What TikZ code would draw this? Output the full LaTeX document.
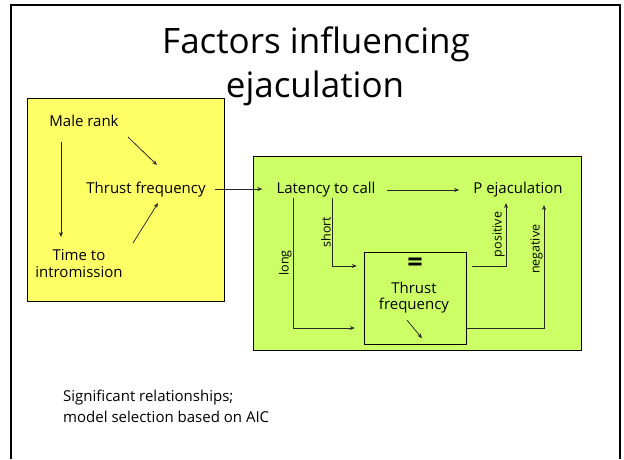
\documentclass[tikz,border=0pt]{standalone}
\usepackage{fontspec}
\setmainfont{Open Sans}
\usetikzlibrary{arrows.meta}
\definecolor{notepad}{HTML}{FFFF66}
\definecolor{lime}{HTML}{CCFF66}
\tikzset{
  lbl/.style={font=\fontsize{15}{17}\selectfont,inner sep=0pt,align=center},
  vlbl/.style={font=\fontsize{12.5}{14}\selectfont,inner sep=1pt,rotate=90,anchor=south},
  arr/.style={-{Stealth[length=5pt,width=4pt]},draw=black!85,line width=0.75pt},
}
\begin{document}
\begin{tikzpicture}[x=1pt,y=-1pt]
\useasboundingbox (0,0) rectangle (624,459);
\draw [line width=2pt] (11,459) -- (11,5) -- (620,5) -- (620,459);

% the two panels
\draw [fill=notepad] (27,98) rectangle (224,301);
\draw [fill=lime] (253,156) rectangle (581,350);
\node [draw,minimum width=102pt,minimum height=92pt,inner sep=0pt] (tfbox) at (415,298) {};

% title
\node [font=\fontsize{35}{44}\selectfont,anchor=base] (title1) at (316,53) {Factors influencing};
\node [font=\fontsize{35}{44}\selectfont,anchor=base] (title2) at (315,97) {ejaculation};

% left panel
\node [lbl,anchor=base] (male) at (84,126) {Male rank};
\node [lbl,anchor=base] (thrust) at (146,193) {Thrust frequency};
\node [lbl,anchor=north] (time) at (79,249) {Time to\\intromission};

\draw [arr] ([shift={(-23,16)}]male.base) -- ([shift={(-18,-12)}]time.north);
\draw [arr] ([shift={(44,11)}]male.base) -- ([shift={(11,-28)}]thrust.base);
\draw [arr] ([shift={(54,-6)}]time.north) -- ([shift={(12,10)}]thrust.base);

% right panel
\node [lbl,anchor=base] (latency) at (326,193) {Latency to call};
\node [lbl,anchor=base] (peja) at (518,193) {P ejaculation};
\node [font=\bfseries\fontsize{27}{27}\selectfont,inner sep=0pt] (eq) at (415,265) {=};
\node [lbl,font=\fontsize{15}{16}\selectfont,anchor=north] (tf) at (414,282) {Thrust\\frequency};

\draw [arr] ([shift={(9,-4)}]thrust.base east) -- ([shift={(-14,-4)}]latency.base west);
\draw [arr] ([shift={(11,-3)}]latency.base east) -- ([shift={(-14,-3)}]peja.base west);
\draw [arr] ([shift={(-33,5)}]latency.base) |- node [vlbl,pos=0.25] (long) {long} ([shift={(-9,30)}]tfbox.west);
\draw [arr] ([shift={(6,5)}]latency.base) |- node [vlbl,pos=0.25] (short) {short} ([shift={(-7,-32)}]tfbox.west);
\draw [arr] ([shift={(6,-32)}]tfbox.east) -| node [vlbl,pos=0.75] (lpos) {positive} ([shift={(-12,10)}]peja.base);
\draw [arr] ([shift={(1,30)}]tfbox.east) -| node [vlbl,pos=0.82] (lneg) {negative} ([shift={(26,12)}]peja.base);
\draw [arr] ([shift={(-8,-24)}]tfbox.south) -- ([shift={(7,-6)}]tfbox.south);

% note
\node [lbl,align=left,anchor=north west,font=\fontsize{15}{21}\selectfont] (note) at (63,390) {Significant relationships;\\model selection based on AIC};
\end{tikzpicture}
\end{document}
